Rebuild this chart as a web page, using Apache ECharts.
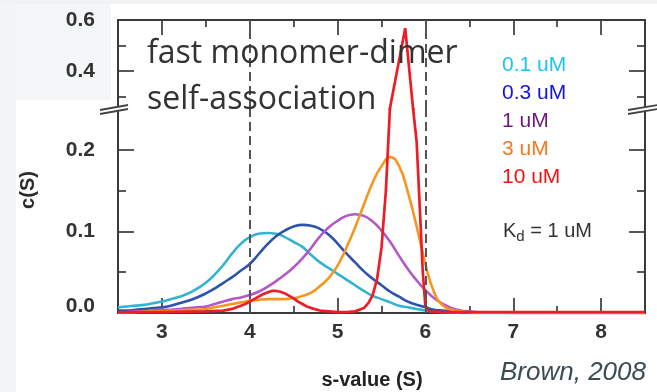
<!DOCTYPE html>
<html><head><meta charset="utf-8">
<script src="https://cdn.jsdelivr.net/npm/echarts@6/dist/echarts.min.js"></script>
<style>html,body{margin:0;padding:0;background:#fff}#c{width:657px;height:392px}</style>
</head><body><div id="c"></div>
<script>
// ---- data ----
const sValues = [2.5,2.6,2.7,2.8,2.9,3.0,3.1,3.2,3.3,3.4,3.5,3.6,3.7,3.8,3.9,4.0,4.1,4.2,4.3,4.4,4.5,4.6,4.7,4.8,4.9,5.0,5.1,5.2,5.3,5.4,5.5,5.6,5.7,5.8,5.9,6.0,6.1,6.2,6.3,6.4,6.5,6.6,7.0,8.5];
const c01uM = [.007,.008,.009,.010,.012,.014,.017,.020,.024,.030,.037,.047,.059,.073,.085,.093,.097,.098,.097,.093,.087,.081,.071,.062,.055,.048,.041,.034,.027,.021,.017,.013,.009,.007,.005,.003,.002,.001,.001,0,0,0,0,0];
const c03uM = [.003,.003,.004,.005,.006,.007,.009,.012,.015,.019,.024,.030,.037,.044,.052,.060,.072,.084,.094,.101,.106,.108,.107,.103,.096,.085,.073,.062,.051,.042,.034,.026,.020,.014,.010,.007,.004,.003,.002,.001,0,0,0,0];
const c1uM  = [.001,.001,.002,.002,.003,.004,.004,.005,.006,.007,.008,.011,.014,.017,.019,.022,.026,.032,.039,.047,.056,.067,.080,.094,.105,.113,.119,.121,.119,.112,.101,.087,.070,.054,.040,.028,.018,.011,.006,.003,.002,.001,0,0];
const c3uM  = [.001,.001,.001,.002,.002,.002,.003,.003,.004,.004,.005,.007,.009,.011,.013,.015,.016,.017,.017,.017,.018,.021,.025,.033,.043,.058,.080,.105,.133,.160,.180,.191,.180,.148,.106,.060,.025,.009,.004,.002,.001,0,0,0];
const redS  = [2.5,3.0,3.5,3.7,3.8,3.85,3.9,3.95,4.0,4.05,4.1,4.15,4.2,4.25,4.3,4.35,4.4,4.45,4.5,4.55,4.6,4.65,4.7,4.8,4.9,5.0,5.1,5.2,5.3,5.35,5.4,5.45,5.5,5.55,5.6,5.77,5.86,5.9,5.94,5.97,6.0,6.05,6.2,7.0,8.5];
const c10uM = [.001,.001,.002,.003,.005,.007,.009,.011,.014,.017,.020,.023,.025,.027,.027,.026,.024,.021,.018,.014,.011,.008,.006,.003,.002,.001,.001,.002,.006,.012,.022,.042,.080,.150,.260,.568,.250,.210,.120,.050,.008,.002,.001,.001,.001];

const xMajor = [3,4,5,6,7,8];
const xMinor = [3.5,4.5,5.5,6.5,7.5];
const yLowMajor = [0, 0.1, 0.2];
const yLowMinor = [0.05, 0.15];
const yHighMajor = [0.4, 0.6];
const yHighMinor = [0.3, 0.5];
const dashedAt = [4, 6];
const legendLabels = ['0.1 uM','0.3 uM','1 uM','3 uM','10 uM'];
const legendColors = ['#1ec3ef','#1414dc','#6b1a7c','#f57a1e','#f21414'];
const lineColors = ['#33b3cf','#2f52ad','#b457c8','#f7961f','#ec1d25'];

// ---- chart ----
const FONT = 'Liberation Sans, Arial, sans-serif';
const AX = '#3a3a3a';
const LBL = '#333333';
const pair = (xs, ys) => xs.map((x, i) => [x, ys[i]]);

function xAxis(grid, pos, ticks, len, line, labels) {
  return {
    type: 'value', gridIndex: grid, position: pos, min: 2.5, max: 8.5,
    axisLine: {show: line, onZero: false, lineStyle: {color: AX, width: 2}},
    axisTick: {show: true, inside: true, length: len, customValues: ticks, lineStyle: {color: AX, width: 1.7}},
    axisLabel: labels ? {show: true, customValues: labels, margin: 9, fontFamily: FONT, fontWeight: 'bold', fontSize: 21, color: LBL} : {show: false},
    splitLine: {show: false}
  };
}
function yAxis(grid, pos, min, max, ticks, len, line, labels) {
  return {
    type: 'value', gridIndex: grid, position: pos, min: min, max: max,
    axisLine: {show: line, onZero: false, lineStyle: {color: AX, width: 2}},
    axisTick: {show: true, inside: true, length: len, customValues: ticks, lineStyle: {color: AX, width: 1.7}},
    axisLabel: labels ? {
      show: true, customValues: labels, margin: 23, fontFamily: FONT, fontWeight: 'bold', fontSize: 21, color: LBL,
      formatter: v => v === 0 ? '{z|0.0}' : v.toFixed(1),
      rich: {z: {fontFamily: FONT, fontWeight: 'bold', fontSize: 21, color: LBL, padding: [0, 0, 14, 0]}}
    } : {show: false},
    splitLine: {show: false}
  };
}

const dashLine = {
  silent: true, symbol: 'none', label: {show: false},
  lineStyle: {color: '#555555', width: 2, type: [9, 5]},
  data: dashedAt.map(v => ({xAxis: v}))
};

function lowSeries(data, color, smooth, width) {
  return {
    type: 'line', xAxisIndex: 2, yAxisIndex: 4, data: data, smooth: smooth,
    showSymbol: false, lineStyle: {color: color, width: width}, itemStyle: {color: color}, animation: false
  };
}

const chart = echarts.init(document.getElementById('c'), null, {renderer: 'canvas'});
const s0 = lowSeries(pair(sValues, c01uM), lineColors[0], true, 2.6);
s0.markLine = dashLine;
const sHigh = {
  type: 'line', xAxisIndex: 0, yAxisIndex: 0, data: pair(redS, c10uM), smooth: false,
  showSymbol: false, lineStyle: {color: lineColors[4], width: 2.7}, animation: false,
  markLine: dashLine
};
chart.setOption({
  animation: false,
  backgroundColor: '#ffffff',
  grid: [
    {left: 118, top: 20, width: 527, height: 89},
    {left: 118, top: 109, width: 527, height: 204}
  ],
  xAxis: [
    xAxis(0, 'top', xMajor, 15, true, null),
    xAxis(0, 'top', xMinor, 7, false, null),
    xAxis(1, 'bottom', xMajor, 15, true, xMajor),
    xAxis(1, 'bottom', xMinor, 7, false, null)
  ],
  yAxis: [
    yAxis(0, 'left', 0.25, 0.6, yHighMajor, 16, true, yHighMajor),
    yAxis(0, 'left', 0.25, 0.6, yHighMinor, 8, false, null),
    yAxis(0, 'right', 0.25, 0.6, yHighMajor, 16, true, null),
    yAxis(0, 'right', 0.25, 0.6, yHighMinor, 8, false, null),
    yAxis(1, 'left', 0, 0.25, yLowMajor, 16, true, yLowMajor),
    yAxis(1, 'left', 0, 0.25, yLowMinor, 8, false, null),
    yAxis(1, 'right', 0, 0.25, yLowMajor, 16, true, null),
    yAxis(1, 'right', 0, 0.25, yLowMinor, 8, false, null)
  ],
  series: [
    s0,
    lowSeries(pair(sValues, c03uM), lineColors[1], true, 2.6),
    lowSeries(pair(sValues, c1uM), lineColors[2], true, 2.6),
    lowSeries(pair(sValues, c3uM), lineColors[3], true, 2.6),
    lowSeries(pair(redS, c10uM), lineColors[4], false, 2.7),
    sHigh
  ]
});

// decorations: axis-break marks placed from the axis scale, and the text annotations
const pL = chart.convertToPixel({xAxisIndex: 2, yAxisIndex: 4}, [2.5, 0.25]);
const pR = chart.convertToPixel({xAxisIndex: 2, yAxisIndex: 4}, [8.5, 0.25]);
function breakMark(cx, cy, l, r) {
  return [
    {type: 'polygon', shape: {points: [[cx - l, cy + 1], [cx + r, cy - 4], [cx + r, cy + 0], [cx - l, cy + 5]]}, style: {fill: '#fff'}, z: 50},
    {type: 'line', shape: {x1: cx - l, y1: cy + 1, x2: cx + r, y2: cy - 4}, style: {stroke: '#444', lineWidth: 1.8}, z: 51},
    {type: 'line', shape: {x1: cx - l, y1: cy + 5, x2: cx + r, y2: cy + 0}, style: {stroke: '#444', lineWidth: 1.8}, z: 51}
  ];
}
function T(text, x, y, size, color, styleExtra, elExtra) {
  const st = {text: text, fontFamily: FONT, fontSize: size, fill: color, verticalAlign: 'middle'};
  Object.assign(st, styleExtra || {});
  const el = {type: 'text', x: x, y: y, z: 60, style: st};
  Object.assign(el, elExtra || {});
  return el;
}

const graphics = [
  {type: 'rect', shape: {x: 0, y: 0, width: 16, height: 392}, style: {fill: '#f2f4f5'}, z: -10},
  {type: 'rect', shape: {x: 16, y: 0, width: 95, height: 100}, style: {fill: '#f4f6f7'}, z: -10},
  {type: 'rect', shape: {x: 0, y: 0, width: 657, height: 4}, style: {fill: '#f0f2f3'}, z: -10}
].concat(breakMark(pL[0], pL[1], 18, 10), breakMark(pR[0], pR[1], 17, 13));

graphics.push(T('fast monomer-dimer', 147, 54, 32, '#333333', {fontFamily: 'Open Sans'}));
graphics.push(T('self-association', 147, 100, 32, '#333333', {fontFamily: 'Open Sans'}));
legendLabels.forEach((t, i) => graphics.push(T(t, 502, 65 + i * 28, 21, legendColors[i])));
graphics.push({
  type: 'text', x: 503, y: 231, z: 60,
  style: {
    text: '{k|K}{d|d}{k| = 1 uM}', verticalAlign: 'middle',
    rich: {
      k: {fontFamily: FONT, fontSize: 20, fill: '#333', lineHeight: 26, verticalAlign: 'middle'},
      d: {fontFamily: FONT, fontSize: 15, fill: '#333', lineHeight: 15, verticalAlign: 'bottom'}
    }
  }
});
graphics.push(T('c(S)', 28, 190, 20, '#2b2b2b', {align: 'center', fontWeight: 'bold'}, {rotation: Math.PI / 2}));
graphics.push(T('s-value (S)', 372, 380, 20, '#222', {align: 'center', fontWeight: 'bold'}));
graphics.push(T('Brown, 2008', 500, 373, 26, '#3d4b52', {fontStyle: 'italic'}));

chart.setOption({graphic: graphics});
</script>
</body></html>
